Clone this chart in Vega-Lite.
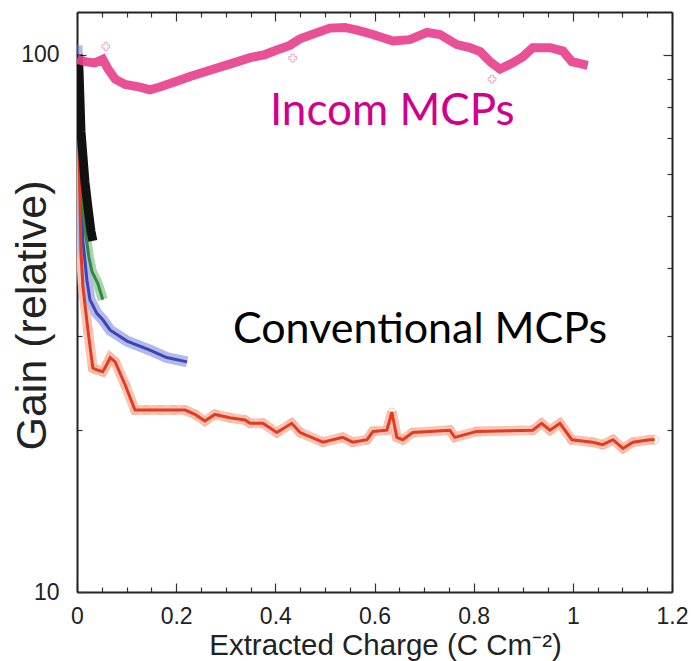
{
  "$schema": "https://vega.github.io/schema/vega-lite/v6.json",
  "width": 595,
  "height": 580,
  "autosize": {"type": "none"},
  "padding": {"left": 77, "top": 12, "right": 19, "bottom": 69},
  "background": "white",
  "config": {
    "view": {"stroke": null},
    "font": "Liberation Sans",
    "axis": {"labelFontSize": 23, "labelFont": "Liberation Sans", "labelColor": "#222"}
  },
  "datasets": {
    "incom": [
      {"x": 0, "y": 98}, {"x": 0.016, "y": 97}, {"x": 0.036, "y": 96.5}, {"x": 0.052, "y": 98}, {"x": 0.0625, "y": 94},
      {"x": 0.077, "y": 90}, {"x": 0.097, "y": 88}, {"x": 0.127, "y": 87}, {"x": 0.147, "y": 86}, {"x": 0.167, "y": 87},
      {"x": 0.198, "y": 89}, {"x": 0.228, "y": 91}, {"x": 0.268, "y": 93.5}, {"x": 0.308, "y": 96}, {"x": 0.349, "y": 98.7},
      {"x": 0.379, "y": 100}, {"x": 0.403, "y": 102}, {"x": 0.429, "y": 104}, {"x": 0.45, "y": 107}, {"x": 0.48, "y": 109.5},
      {"x": 0.51, "y": 112}, {"x": 0.54, "y": 112.3}, {"x": 0.565, "y": 111}, {"x": 0.597, "y": 109}, {"x": 0.637, "y": 106},
      {"x": 0.671, "y": 106.6}, {"x": 0.706, "y": 110}, {"x": 0.732, "y": 109}, {"x": 0.766, "y": 104.4}, {"x": 0.792, "y": 103},
      {"x": 0.813, "y": 101.3}, {"x": 0.833, "y": 97}, {"x": 0.853, "y": 94}, {"x": 0.879, "y": 96.5}, {"x": 0.899, "y": 99},
      {"x": 0.919, "y": 103}, {"x": 0.954, "y": 103}, {"x": 0.98, "y": 101.5}, {"x": 0.998, "y": 97}, {"x": 1.03, "y": 95.5}
    ],
    "incomOutliers": [
      {"x": 0.058, "y": 103.5}, {"x": 0.435, "y": 98.5}, {"x": 0.837, "y": 90}
    ],
    "red": [
      {"x": 0, "y": 100}, {"x": 0.004, "y": 66}, {"x": 0.008, "y": 43}, {"x": 0.012, "y": 37}, {"x": 0.022, "y": 30.7},
      {"x": 0.032, "y": 26.1}, {"x": 0.04, "y": 25.9}, {"x": 0.052, "y": 25.7}, {"x": 0.06, "y": 26.5}, {"x": 0.067, "y": 27.3},
      {"x": 0.077, "y": 26.8}, {"x": 0.097, "y": 24.3}, {"x": 0.117, "y": 21.8}, {"x": 0.14, "y": 21.8}, {"x": 0.167, "y": 21.8},
      {"x": 0.195, "y": 21.8}, {"x": 0.218, "y": 21.8}, {"x": 0.238, "y": 21.4}, {"x": 0.258, "y": 20.8}, {"x": 0.278, "y": 21.4},
      {"x": 0.308, "y": 21.1}, {"x": 0.339, "y": 20.9}, {"x": 0.349, "y": 20.6}, {"x": 0.375, "y": 20.6}, {"x": 0.403, "y": 19.8},
      {"x": 0.433, "y": 20.6}, {"x": 0.45, "y": 19.8}, {"x": 0.496, "y": 19.0}, {"x": 0.536, "y": 19.4}, {"x": 0.556, "y": 19.0},
      {"x": 0.585, "y": 19.2}, {"x": 0.597, "y": 19.9}, {"x": 0.625, "y": 20.0}, {"x": 0.635, "y": 21.6}, {"x": 0.645, "y": 19.4},
      {"x": 0.657, "y": 19.2}, {"x": 0.677, "y": 19.8}, {"x": 0.752, "y": 20.0}, {"x": 0.762, "y": 19.4}, {"x": 0.806, "y": 19.9},
      {"x": 0.919, "y": 20.0}, {"x": 0.937, "y": 20.6}, {"x": 0.954, "y": 20.0}, {"x": 0.974, "y": 20.6}, {"x": 0.998, "y": 19.2},
      {"x": 1.04, "y": 19.0}, {"x": 1.06, "y": 18.8}, {"x": 1.081, "y": 19.2}, {"x": 1.101, "y": 18.5}, {"x": 1.121, "y": 19.0},
      {"x": 1.155, "y": 19.2}, {"x": 1.165, "y": 19.2}
    ],
    "blue": [
      {"x": 0, "y": 104}, {"x": 0.004, "y": 70}, {"x": 0.008, "y": 55}, {"x": 0.012, "y": 45}, {"x": 0.02, "y": 38},
      {"x": 0.026, "y": 35}, {"x": 0.04, "y": 33}, {"x": 0.052, "y": 32.1}, {"x": 0.067, "y": 30.7}, {"x": 0.101, "y": 29.3},
      {"x": 0.147, "y": 28.2}, {"x": 0.181, "y": 27.3}, {"x": 0.222, "y": 26.8}
    ],
    "green": [
      {"x": 0, "y": 100}, {"x": 0.006, "y": 70}, {"x": 0.012, "y": 52}, {"x": 0.018, "y": 46}, {"x": 0.024, "y": 42},
      {"x": 0.03, "y": 39.5}, {"x": 0.042, "y": 37.5}, {"x": 0.052, "y": 35}
    ],
    "black": [
      {"x": 0.003, "y": 100}, {"x": 0.008, "y": 72}, {"x": 0.016, "y": 58}, {"x": 0.022, "y": 52}, {"x": 0.028, "y": 47},
      {"x": 0.032, "y": 45}
    ],
    "labelIncom": [{"x": 0.389, "y": 74.1, "label": "Incom MCPs"}],
    "labelConv": [{"x": 0.3145, "y": 29.1, "label": "Conventional MCPs"}]
  },
  "layer": [
    {
      "data": {"name": "red"},
      "mark": {"type": "line", "color": "#F8C6B6", "strokeWidth": 10, "clip": true},
      "encoding": {
        "x": {
          "field": "x", "type": "quantitative",
          "scale": {"domain": [0, 1.2], "nice": false, "zero": false},
          "axis": {
            "orient": "bottom",
            "values": [0, 0.05, 0.1, 0.15, 0.2, 0.25, 0.3, 0.35, 0.4, 0.45, 0.5, 0.55, 0.6, 0.65, 0.7, 0.75, 0.8, 0.85, 0.9, 0.95, 1, 1.05, 1.1, 1.15, 1.2],
            "format": ".1~f",
            "labelExpr": "abs(datum.value*5-round(datum.value*5))<0.001 ? datum.label : ''",
            "tickSize": {"condition": {"test": "abs(datum.value*5-round(datum.value*5))<0.001", "value": -9}, "value": -5},
            "tickColor": "#333", "tickWidth": 1.2,
            "domainColor": "#222", "domainWidth": 2,
            "grid": false,
            "labelFont": "Liberation Sans",
            "labelFontSize": 23,
            "labelColor": "#222", "labelPadding": 22,
            "labelFlush": false, "labelOverlap": false,
            "title": "Extracted Charge (C Cm⁻²)",
            "titleFont": "Liberation Sans", "titleFontSize": 29.5, "titleFontWeight": "normal", "titleColor": "#222",
            "titleBaseline": "alphabetic", "titleAnchor": "middle", "titleX": 308, "titleY": 62
          }
        },
        "y": {
          "field": "y", "type": "quantitative",
          "scale": {"type": "log", "domain": [10, 120], "nice": false, "zero": false},
          "axis": {
            "orient": "left",
            "values": [10, 20, 30, 40, 50, 60, 70, 80, 90, 100],
            "format": "d",
            "labelExpr": "datum.value == 10 || datum.value == 100 ? datum.label : ''",
            "tickSize": {"condition": {"test": "datum.value == 10 || datum.value == 100", "value": -9}, "value": -5},
            "tickColor": "#333", "tickWidth": 1.2,
            "domainColor": "#222", "domainWidth": 2,
            "grid": false,
            "labelFont": "Liberation Sans",
            "labelFontSize": 23,
            "labelColor": "#222", "labelPadding": 27,
            "labelFlush": false, "labelOverlap": false,
            "title": "Gain (relative)",
            "titleFont": "Liberation Sans", "titleFontSize": 43, "titleFontWeight": "normal", "titleColor": "#222",
            "titleAngle": -90, "titleBaseline": "middle", "titleAlign": "center", "titleX": -45, "titleY": 303
          }
        }
      }
    },
    {
      "data": {"name": "red"},
      "mark": {"type": "point", "shape": "circle", "filled": false, "stroke": "#F2A58E", "strokeWidth": 1, "size": 70, "clip": true},
      "encoding": {
        "x": {"field": "x", "type": "quantitative",
          "axis": {
            "orient": "top",
            "values": [0, 0.05, 0.1, 0.15, 0.2, 0.25, 0.3, 0.35, 0.4, 0.45, 0.5, 0.55, 0.6, 0.65, 0.7, 0.75, 0.8, 0.85, 0.9, 0.95, 1, 1.05, 1.1, 1.15, 1.2],
            "labels": false, "title": null, "grid": false,
            "tickSize": {"condition": {"test": "abs(datum.value*5-round(datum.value*5))<0.001", "value": -9}, "value": -5},
            "tickColor": "#333", "tickWidth": 1.2,
            "domainColor": "#222", "domainWidth": 2
          }
        },
        "y": {"field": "y", "type": "quantitative",
          "axis": {
            "orient": "right",
            "values": [10, 20, 30, 40, 50, 60, 70, 80, 90, 100],
            "labels": false, "title": null, "grid": false,
            "tickSize": {"condition": {"test": "datum.value == 10 || datum.value == 100", "value": -9}, "value": -5},
            "tickColor": "#333", "tickWidth": 1.2,
            "domainColor": "#222", "domainWidth": 2
          }
        }
      }
    },
    {
      "data": {"name": "green"},
      "mark": {"type": "line", "color": "#A9D5AC", "strokeWidth": 10, "clip": true},
      "encoding": {"x": {"field": "x", "type": "quantitative", "axis": null}, "y": {"field": "y", "type": "quantitative", "axis": null}}
    },
    {
      "data": {"name": "blue"},
      "mark": {"type": "line", "color": "#B3BAEA", "strokeWidth": 11, "clip": true},
      "encoding": {"x": {"field": "x", "type": "quantitative", "axis": null}, "y": {"field": "y", "type": "quantitative", "axis": null}}
    },
    {
      "data": {"name": "blue"},
      "mark": {"type": "line", "color": "#3B45B5", "strokeWidth": 3, "clip": true},
      "encoding": {"x": {"field": "x", "type": "quantitative", "axis": null}, "y": {"field": "y", "type": "quantitative", "axis": null}}
    },
    {
      "data": {"name": "green"},
      "mark": {"type": "line", "color": "#2F8A3C", "strokeWidth": 3, "clip": true},
      "encoding": {"x": {"field": "x", "type": "quantitative", "axis": null}, "y": {"field": "y", "type": "quantitative", "axis": null}}
    },
    {
      "data": {"name": "red"},
      "mark": {"type": "line", "color": "#E33A22", "strokeWidth": 3, "clip": true},
      "encoding": {"x": {"field": "x", "type": "quantitative", "axis": null}, "y": {"field": "y", "type": "quantitative", "axis": null}}
    },
    {
      "data": {"name": "black"},
      "mark": {"type": "line", "color": "#111", "strokeWidth": 9, "clip": true},
      "encoding": {"x": {"field": "x", "type": "quantitative", "axis": null}, "y": {"field": "y", "type": "quantitative", "axis": null}}
    },
    {
      "data": {"name": "incom"},
      "mark": {"type": "line", "color": "#E8418C", "strokeWidth": 9, "opacity": 0.92, "clip": true},
      "encoding": {"x": {"field": "x", "type": "quantitative", "axis": null}, "y": {"field": "y", "type": "quantitative", "axis": null}}
    },
    {
      "data": {"name": "incomOutliers"},
      "mark": {"type": "point", "shape": "cross", "filled": false, "stroke": "#EE7FB0", "strokeWidth": 1, "size": 60, "clip": true},
      "encoding": {"x": {"field": "x", "type": "quantitative", "axis": null}, "y": {"field": "y", "type": "quantitative", "axis": null}}
    },
    {
      "data": {"name": "labelIncom"},
      "mark": {"type": "text", "font": "Lato", "fontSize": 44, "color": "#D1008C", "align": "left", "baseline": "alphabetic"},
      "encoding": {"x": {"field": "x", "type": "quantitative", "axis": null}, "y": {"field": "y", "type": "quantitative", "axis": null}, "text": {"field": "label"}}
    },
    {
      "data": {"name": "labelConv"},
      "mark": {"type": "text", "font": "Lato", "fontSize": 43, "color": "#000000", "align": "left", "baseline": "alphabetic"},
      "encoding": {"x": {"field": "x", "type": "quantitative", "axis": null}, "y": {"field": "y", "type": "quantitative", "axis": null}, "text": {"field": "label"}}
    }
  ],
  "resolve": {"axis": {"x": "independent", "y": "independent"}}
}
